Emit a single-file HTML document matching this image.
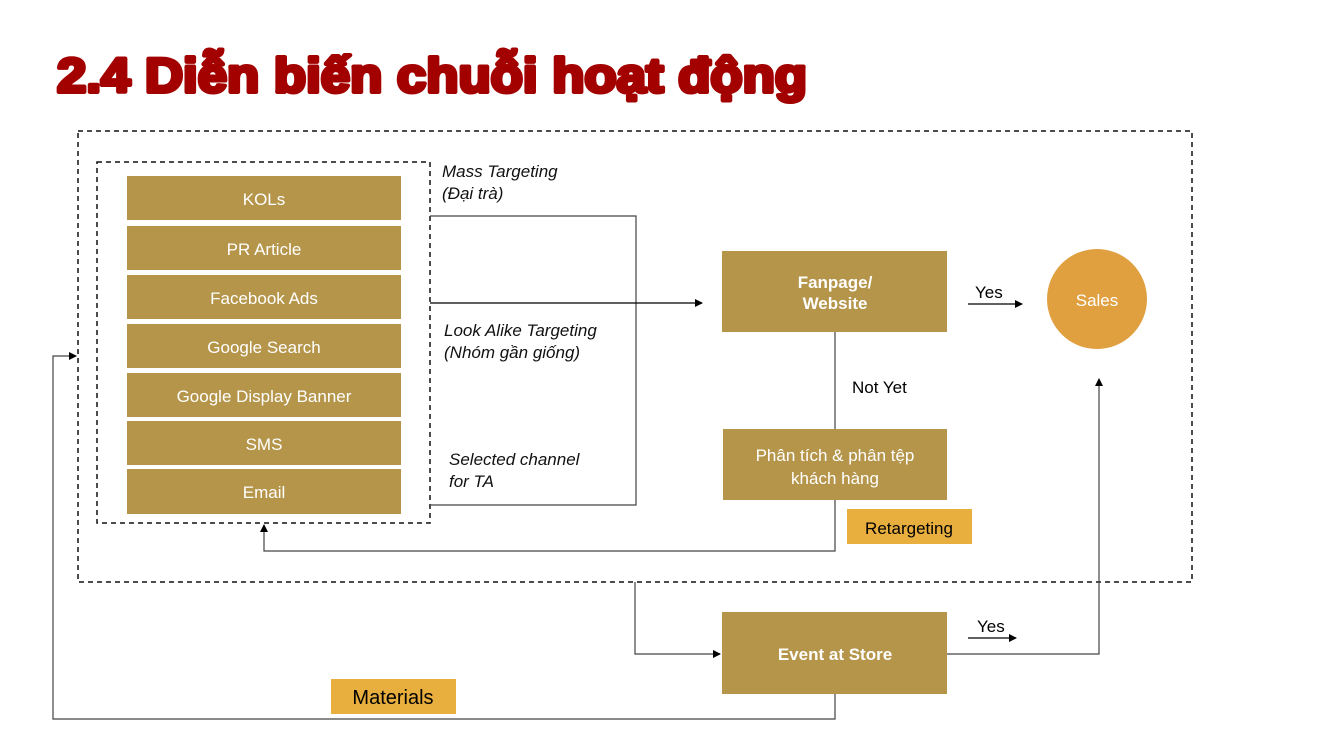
<!DOCTYPE html>
<html><head><meta charset="utf-8"><style>
html,body{margin:0;padding:0;background:#fff;width:1333px;height:750px;overflow:hidden}
svg{display:block}
text{font-family:"Liberation Sans",sans-serif}
</style></head><body>
<svg width="1333" height="750" viewBox="0 0 1333 750" xmlns="http://www.w3.org/2000/svg">
<defs><marker id="a" markerWidth="8" markerHeight="8" refX="7" refY="4" orient="auto" markerUnits="userSpaceOnUse"><path d="M0,0 L8,4 L0,8 z" fill="#000"/></marker></defs>
<text x="57" y="92" font-size="48" font-weight="900" fill="#a30000" stroke="#a30000" stroke-width="4" stroke-linejoin="round" textLength="750" lengthAdjust="spacingAndGlyphs">2.4 Diễn biến chuỗi hoạt động</text>
<rect x="78" y="131" width="1114" height="451" fill="none" stroke="#111" stroke-width="1.5" stroke-dasharray="5,4"/>
<rect x="97" y="162" width="333" height="361" fill="none" stroke="#111" stroke-width="1.5" stroke-dasharray="5,4"/>
<g fill="#b5954a">
<rect x="127" y="176" width="274" height="44"/><rect x="127" y="226" width="274" height="44"/><rect x="127" y="275" width="274" height="44"/><rect x="127" y="324" width="274" height="44"/><rect x="127" y="373" width="274" height="44"/><rect x="127" y="421" width="274" height="44"/><rect x="127" y="469" width="274" height="45"/>
</g>
<g fill="#fff" font-size="17" text-anchor="middle">
<text x="264" y="205">KOLs</text><text x="264" y="255">PR Article</text><text x="264" y="304">Facebook Ads</text><text x="264" y="353">Google Search</text><text x="264" y="402">Google Display Banner</text><text x="264" y="450">SMS</text><text x="264" y="498">Email</text>
</g>
<g font-size="17" font-style="italic" fill="#111">
<text x="442" y="177">Mass Targeting</text><text x="442" y="199">(Đại trà)</text>
<text x="444" y="336">Look Alike Targeting</text><text x="444" y="358">(Nhóm gần giống)</text>
<text x="449" y="465">Selected channel</text><text x="449" y="487">for TA</text>
</g>
<g fill="none" stroke="#444" stroke-width="1.2">
<polyline points="430,216 636,216 636,505 430,505"/>
<line x1="430" y1="303" x2="702" y2="303" stroke="#000" marker-end="url(#a)"/>
<line x1="835" y1="332" x2="835" y2="429"/>
<polyline points="835,500 835,551 264,551 264,525" marker-end="url(#a)"/>
<line x1="968" y1="304" x2="1022" y2="304" stroke="#000" marker-end="url(#a)"/>
<polyline points="635,582 635,654 720,654" marker-end="url(#a)"/>
<polyline points="947,654 1099,654 1099,379" marker-end="url(#a)"/>
<line x1="968" y1="638" x2="1016" y2="638" stroke="#000" marker-end="url(#a)"/>
<polyline points="835,694 835,719 53,719 53,356 76,356" marker-end="url(#a)"/>
</g>
<rect x="722" y="251" width="225" height="81" fill="#b5954a"/>
<text x="835" y="288" fill="#fff" font-size="17" font-weight="bold" text-anchor="middle">Fanpage/</text>
<text x="835" y="309" fill="#fff" font-size="17" font-weight="bold" text-anchor="middle">Website</text>
<text x="975" y="298" font-size="17">Yes</text>
<circle cx="1097" cy="299" r="50" fill="#e0a040"/>
<text x="1097" y="306" fill="#fff" font-size="17" text-anchor="middle">Sales</text>
<text x="852" y="393" font-size="17">Not Yet</text>
<rect x="723" y="429" width="224" height="71" fill="#b5954a"/>
<text x="835" y="461" fill="#fff" font-size="17" text-anchor="middle">Phân tích &amp; phân tệp</text>
<text x="835" y="484" fill="#fff" font-size="17" text-anchor="middle">khách hàng</text>
<rect x="847" y="509" width="125" height="35" fill="#e8ae3e"/>
<text x="909" y="534" font-size="17" text-anchor="middle">Retargeting</text>
<rect x="722" y="612" width="225" height="82" fill="#b5954a"/>
<text x="835" y="660" fill="#fff" font-size="17" font-weight="bold" text-anchor="middle">Event at Store</text>
<text x="977" y="632" font-size="17">Yes</text>
<rect x="331" y="679" width="125" height="35" fill="#e8ae3e"/>
<text x="393" y="704" font-size="20" text-anchor="middle">Materials</text>
</svg>
</body></html>
